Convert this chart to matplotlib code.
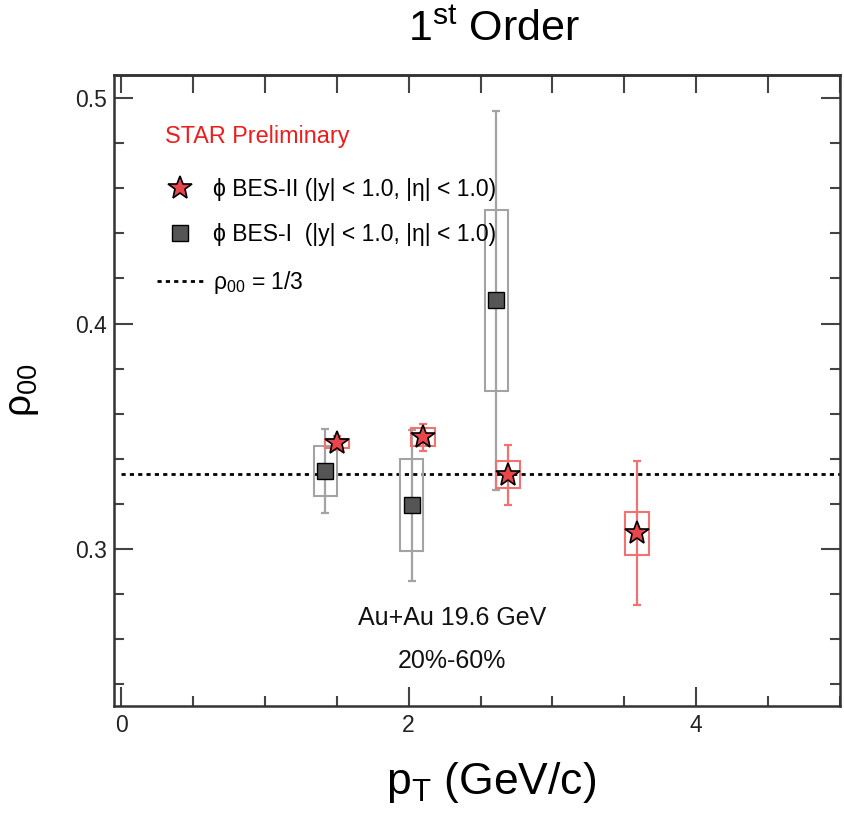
import numpy as np
import matplotlib
matplotlib.use("Agg")
import matplotlib.pyplot as plt
from matplotlib.lines import Line2D

plt.rcParams['font.family'] = ['Liberation Sans', 'DejaVu Sans']
plt.rcParams['mathtext.fontset'] = 'custom'
plt.rcParams['mathtext.rm'] = 'Liberation Sans'
plt.rcParams['mathtext.default'] = 'regular'

# phi meson rho00 vs pT, Au+Au 19.6 GeV, 20-60%
bes2_pt = [1.50, 2.10, 2.69, 3.59]
bes2_rho = [0.347, 0.3495, 0.333, 0.307]
bes2_stat = [0.003, 0.006, 0.0133, 0.032]
bes2_sys = [0.002, 0.004, 0.006, 0.0095]

bes1_pt = [1.42, 2.02, 2.61]
bes1_rho = [0.3346, 0.3194, 0.4103]
bes1_stat = [0.0188, 0.0335, 0.084]
bes1_sys = [0.011, 0.0204, 0.040]

rho_ref = 1.0 / 3.0

red_fill = '#e8464a'
red_err = '#f27272'
gray_err = '#a3a3a3'
gray_fill = '#555555'

fig = plt.figure(figsize=(8.44, 8.13), dpi=100)
ax = fig.add_axes([0.1351, 0.1316, 0.860, 0.7761])

# reference line
ax.plot([0, 5], [rho_ref, rho_ref], color='black', lw=2, ls=(0, (1.5, 1.5)), zorder=2)

# BES-I : systematic boxes, stat errors, markers
ax.bar(bes1_pt, 2 * np.array(bes1_sys), bottom=np.array(bes1_rho) - np.array(bes1_sys),
       width=0.16, fill=False, edgecolor=gray_err, linewidth=1.5, zorder=3)
ax.errorbar(bes1_pt, bes1_rho, yerr=bes1_stat, fmt='none', ecolor=gray_err,
            elinewidth=1.6, capsize=3, capthick=1.6, zorder=3)
ax.plot(bes1_pt, bes1_rho, ls='none', marker='s', ms=11, mfc=gray_fill, mec='black',
        mew=1.0, zorder=4)

# BES-II
ax.bar(bes2_pt, 2 * np.array(bes2_sys), bottom=np.array(bes2_rho) - np.array(bes2_sys),
       width=0.17, fill=False, edgecolor=red_err, linewidth=1.5, zorder=5)
ax.errorbar(bes2_pt, bes2_rho, yerr=bes2_stat, fmt='none', ecolor=red_err,
            elinewidth=1.6, capsize=3, capthick=1.6, zorder=5)
ax.plot(bes2_pt, bes2_rho, ls='none', marker='*', ms=18, mfc=red_fill, mec='black',
        mew=1.2, zorder=6)

ax.set_xlim(-0.05, 5.0)
ax.set_ylim(0.2304, 0.5102)

ax.set_xticks([0, 2, 4])
ax.set_xticks(np.arange(0, 5.01, 0.5), minor=True)
ax.set_yticks([0.3, 0.4, 0.5])
ax.set_yticks(np.arange(0.24, 0.51, 0.02), minor=True)
ax.set_xticklabels(['0', '2', '4'])
ax.set_yticklabels(['0.3', '0.4', '0.5'])

ax.tick_params(axis='both', which='both', direction='in', colors='#444444',
               labelcolor='#222222', labelsize=16.5, width=1.5)
ax.tick_params(axis='y', which='both', right=True)
ax.tick_params(axis='both', which='major', length=14)
ax.tick_params(axis='both', which='minor', length=7)
ax.tick_params(axis='x', which='major', pad=6)
ax.tick_params(axis='y', which='major', pad=5)

# top axis: uniform ticks every 0.5
top = ax.secondary_xaxis('top')
top.set_xticks(np.arange(0, 5.01, 0.5))
top.tick_params(direction='in', length=13, width=1.5, colors='#444444', labeltop=False)
top.xaxis.set_minor_locator(matplotlib.ticker.NullLocator())

for sp in list(ax.spines.values()) + list(top.spines.values()):
    sp.set_color('#333333')
    sp.set_linewidth(1.8)

ax.set_xlabel('p$_{T}$ (GeV/c)', fontsize=32)
ax.xaxis.set_label_coords(0.52, -0.085)
ax.set_ylabel('ρ$_{00}$', fontsize=28)
ax.yaxis.set_label_coords(-0.1, 0.5)

ax.text(0.070, 0.903, 'STAR Preliminary', color='#ee1c1c', fontsize=16.8,
        transform=ax.transAxes, va='center', ha='left')

handles = [
    Line2D([], [], ls='none', marker='*', ms=18, mfc=red_fill, mec='black', mew=1.2),
    Line2D([], [], ls='none', marker='s', ms=11, mfc=gray_fill, mec='black', mew=1.0),
    Line2D([], [], color='black', lw=2, ls=(0, (1.5, 1.5))),
]
labels = ['ϕ BES-II (|y| < 1.0, |η| < 1.0)',
          'ϕ BES-I  (|y| < 1.0, |η| < 1.0)',
          'ρ$_{00}$ = 1/3']
ax.legend(handles, labels, loc='upper left', bbox_to_anchor=(0.059, 0.837),
          frameon=False, fontsize=16.5, handlelength=2.0, handletextpad=0.45,
          labelspacing=0.98, borderpad=0, borderaxespad=0)

ax.text(0.4656, 0.139, 'Au+Au 19.6 GeV', fontsize=18, transform=ax.transAxes,
        ha='center', va='center', color='#111111')
ax.text(0.4656, 0.0713, '20%-60%', fontsize=18, transform=ax.transAxes,
        ha='center', va='center', color='#111111')

fig.text(0.585, 0.963, '1$^{st}$ Order', fontsize=31, ha='center', va='center')

fig.savefig('out.png', dpi=100)
